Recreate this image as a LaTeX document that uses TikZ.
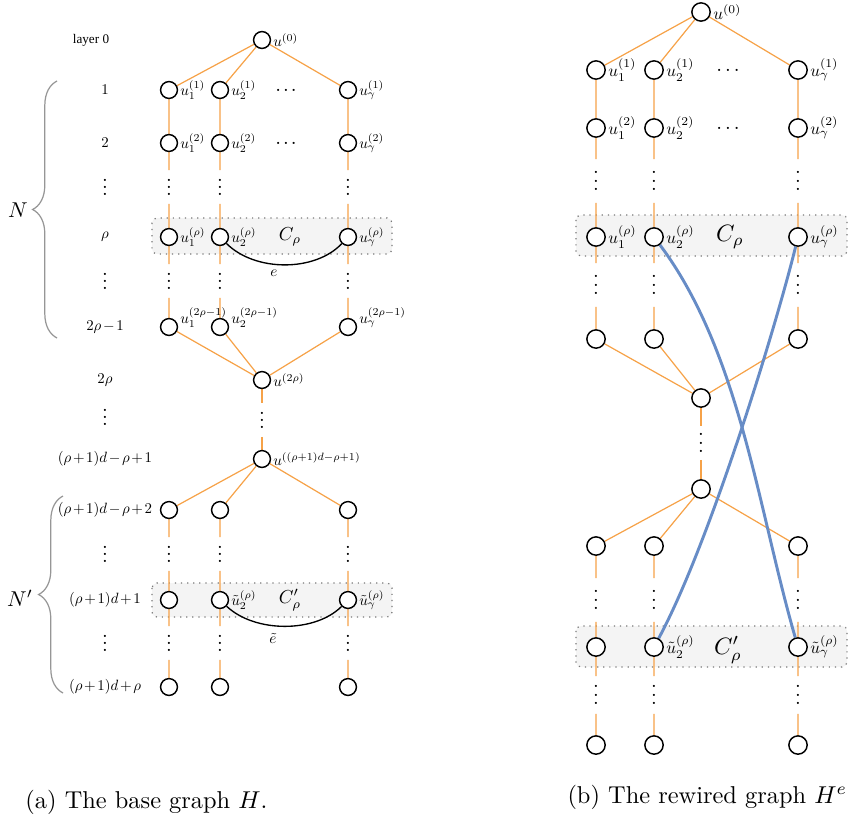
\RequirePackage{fix-cm}
\documentclass[tikz,border=0pt]{standalone}
\usepackage{fontspec}
\newfontfamily\timesf{Liberation Serif}
\usetikzlibrary{decorations.pathreplacing}
\pgfdeclarelayer{boxes}
\pgfdeclarelayer{edges}
\pgfsetlayers{boxes,edges,main}
\definecolor{eorange}{RGB}{246,162,72}
\definecolor{eblue}{RGB}{103,140,198}
\definecolor{cfill}{RGB}{244,244,244}
\definecolor{cline}{RGB}{120,120,120}
\definecolor{bgray}{RGB}{150,150,150}
\newcommand{\hdA}{\hbox{.\kern0.8pt.\kern0.8pt.}}
\newcommand{\vdA}{\vbox{\baselineskip=2.9pt\lineskiplimit=-5pt\hbox{.}\hbox{.}\hbox{.}}}
\newcommand{\hdB}{\hbox{.\kern1.2pt.\kern1.2pt.}}
\newcommand{\vdB}{\vbox{\baselineskip=3.4pt\lineskiplimit=-5pt\hbox{.}\hbox{.}\hbox{.}}}
\tikzset{
 vA/.style={circle,draw,line width=0.6pt,fill=white,minimum size=6.9pt,inner sep=0pt},
 vB/.style={vA,minimum size=7.5pt},
 labA/.style={font=\normalsize,inner sep=1.2pt,scale=0.62},
 labB/.style={font=\normalsize,inner sep=1.2pt,scale=0.7},
 dA/.style={inner sep=0pt,minimum height=13.5pt,minimum width=3pt,font=\fontsize{8}{9}\selectfont},
 dB/.style={dA,minimum height=17.5pt},
 hA/.style={inner sep=0pt,font=\fontsize{8}{9}\selectfont},
 lay/.style={inner sep=0pt,font={\normalsize\medmuskip=2mu},scale=0.61},
 cA/.style={inner sep=0pt,font=\normalsize,scale=0.77},
 cB/.style={inner sep=0pt,font=\normalsize,scale=0.97},
 oe/.style={draw=eorange,line width=0.5pt},
 be/.style={draw=eblue,line width=1.2pt},
 ke/.style={draw=black,line width=0.55pt},
 cbox/.style={draw=cline,fill=cfill,dotted,line width=0.5pt,rounded corners=2pt},
 brc/.style={draw=bgray,line width=0.5pt,decorate,decoration={brace,amplitude=10pt}},
 capt/.style={inner sep=0pt,anchor=west,font=\normalsize},
 bigN/.style={inner sep=0pt,font=\normalsize,scale=0.88},
}
\begin{document}
\begin{tikzpicture}[x=0.41pt,y=-0.41pt]
\useasboundingbox (0,0) rectangle (848,824);
% ---------------- (a) ----------------
\node[vA,label={[labA]east:$u^{(0)}$}] (a0) at (262,40) {};
\node[inner sep=0pt,scale=0.54,font=\timesf] (la0) at (91,40) {layer 0};
% row 1
\node[vA,label={[labA]east:$u_1^{(1)}$}] (a11) at (169,90) {};
\node[vA,label={[labA]east:$u_2^{(1)}$}] (a12) at (220,90) {};
\node[vA,label={[labA]east:$u_\gamma^{(1)}$}] (a1g) at (348,90) {};
\node[hA] (ah1) at (286,90) {\hdA};
\node[lay] (la1) at (105,90) {$1$};
% row 2
\node[vA,label={[labA]east:$u_1^{(2)}$}] (a21) at (169,143) {};
\node[vA,label={[labA]east:$u_2^{(2)}$}] (a22) at (220,143) {};
\node[vA,label={[labA]east:$u_\gamma^{(2)}$}] (a2g) at (348,143) {};
\node[hA] (ah2) at (286,143) {\hdA};
\node[lay] (la2) at (105,143) {$2$};
% dots
\node[dA] (ad1) at (169,187) {\vdA};
\node[dA] (ad2) at (220,187) {\vdA};
\node[dA] (adg) at (348,187) {\vdA};
\node[dA] (lad) at (105,187) {\vdA};
% row rho
\node[vA,label={[labA]east:$u_1^{(\rho)}$}] (ar1) at (169,237) {};
\node[vA,label={[labA]east:$u_2^{(\rho)}$}] (ar2) at (220,237) {};
\node[vA,label={[labA]east:$u_\gamma^{(\rho)}$}] (arg) at (348,237) {};
\node[cA] (ca) at (290,237) {$C_\rho$};
\node[lay] (lar) at (105,237) {$\rho$};
% dots
\node[dA] (ae1) at (169,281) {\vdA};
\node[dA] (ae2) at (220,281) {\vdA};
\node[dA] (aeg) at (348,281) {\vdA};
\node[dA] (lae) at (105,281) {\vdA};
\node[labA] (ea) at (274,273) {$e$};
% row 2rho-1
\node[vA,label={[yshift=4pt,labA]east:$u_1^{(2\rho-1)}$}] (as1) at (169,327) {};
\node[vA,label={[yshift=4pt,labA]east:$u_2^{(2\rho-1)}$}] (as2) at (220,327) {};
\node[vA,label={[yshift=4pt,labA]east:$u_\gamma^{(2\rho-1)}$}] (asg) at (348,327) {};
\node[lay] (las) at (105,327) {$2\rho-1$};
% center
\node[vA,label={[labA]east:$u^{(2\rho)}$}] (a2r) at (262,380) {};
\node[lay] (la2r) at (105,380) {$2\rho$};
\node[dA] (adc) at (262,420) {\vdA};
\node[dA] (ladc) at (105,417) {\vdA};
\node[vA,label={[labA]east:$u^{((\rho+1)d-\rho+1)}$}] (ad) at (262,459) {};
\node[lay] (lad2) at (105,459) {$(\rho+1)d-\rho+1$};
% row
\node[vA] (at1) at (169,510) {};
\node[vA] (at2) at (220,510) {};
\node[vA] (atg) at (348,510) {};
\node[lay] (lat) at (105,510) {$(\rho+1)d-\rho+2$};
\node[dA] (af1) at (169,554) {\vdA};
\node[dA] (af2) at (220,554) {\vdA};
\node[dA] (afg) at (348,554) {\vdA};
\node[dA] (laf) at (105,554) {\vdA};
% row rho'
\node[vA] (ap1) at (169,600) {};
\node[vA,label={[labA]east:$\tilde u_2^{(\rho)}$}] (ap2) at (220,600) {};
\node[vA,label={[labA]east:$\tilde u_\gamma^{(\rho)}$}] (apg) at (348,600) {};
\node[cA] (cpa) at (290,600) {$C'_\rho$};
\node[lay] (lap) at (105,600) {$(\rho+1)d+1$};
\node[dA] (ag1) at (169,643) {\vdA};
\node[dA] (ag2) at (220,643) {\vdA};
\node[dA] (agg) at (348,643) {\vdA};
\node[dA] (lag) at (105,643) {\vdA};
\node[labA] (eta) at (273,638) {$\tilde e$};
% last row
\node[vA] (ab1) at (169,687) {};
\node[vA] (ab2) at (220,687) {};
\node[vA] (abg) at (348,687) {};
\node[lay] (lab) at (105,687) {$(\rho+1)d+\rho$};
% braces
\draw[brc] (57,338) -- (57,81);
\node[bigN] (nN) at (18,210) {$N$};
\draw[brc] (63,693) -- (63,496);
\node[bigN] (nNp) at (20,598) {$N'$};
% caption
\node[capt] (capa) at (25,802) {(a) The base graph $H$.};

% ---------------- (b) ----------------
\node[vB,label={[labB]east:$u^{(0)}$}] (b0) at (701,12) {};
\node[vB,label={[labB]east:$u_1^{(1)}$}] (b11) at (596,70) {};
\node[vB,label={[labB]east:$u_2^{(1)}$}] (b12) at (654,70) {};
\node[vB,label={[labB]east:$u_\gamma^{(1)}$}] (b1g) at (798,70) {};
\node[hA] (bh1) at (728,70) {\hdB};
\node[vB,label={[labB]east:$u_1^{(2)}$}] (b21) at (596,128) {};
\node[vB,label={[labB]east:$u_2^{(2)}$}] (b22) at (654,128) {};
\node[vB,label={[labB]east:$u_\gamma^{(2)}$}] (b2g) at (798,128) {};
\node[hA] (bh2) at (728,128) {\hdB};
\node[dB] (bd1) at (596,181) {\vdB};
\node[dB] (bd2) at (654,181) {\vdB};
\node[dB] (bdg) at (798,181) {\vdB};
\node[vB,label={[labB]east:$u_1^{(\rho)}$}] (br1) at (596,237) {};
\node[vB,label={[labB]east:$u_2^{(\rho)}$}] (br2) at (654,237) {};
\node[vB,label={[labB]east:$u_\gamma^{(\rho)}$}] (brg) at (798,237) {};
\node[cB] (cb) at (730,237) {$C_\rho$};
\node[dB] (be1) at (596,285) {\vdB};
\node[dB] (be2) at (654,285) {\vdB};
\node[dB] (beg) at (798,285) {\vdB};
\node[vB] (bs1) at (596,339) {};
\node[vB] (bs2) at (654,339) {};
\node[vB] (bsg) at (798,339) {};
\node[vB] (bc1) at (701,398) {};
\node[dB,minimum height=13.5pt] (bdc) at (701,443) {\vdB};
\node[vB] (bc2) at (701,489) {};
\node[vB] (bt1) at (596,546) {};
\node[vB] (bt2) at (654,546) {};
\node[vB] (btg) at (798,546) {};
\node[dB] (bf1) at (596,600) {\vdB};
\node[dB] (bf2) at (654,600) {\vdB};
\node[dB] (bfg) at (798,600) {\vdB};
\node[vB] (bp1) at (596,647) {};
\node[vB,label={[labB]east:$\tilde u_2^{(\rho)}$}] (bp2) at (654,647) {};
\node[vB,label={[labB]east:$\tilde u_\gamma^{(\rho)}$}] (bpg) at (798,647) {};
\node[cB] (cpb) at (728,650) {$C'_\rho$};
\node[dB,minimum height=15pt] (bg1) at (596,695) {\vdB};
\node[dB,minimum height=15pt] (bg2) at (654,695) {\vdB};
\node[dB,minimum height=15pt] (bgg) at (798,695) {\vdB};
\node[vB] (bb1) at (596,745) {};
\node[vB] (bb2) at (654,745) {};
\node[vB] (bbg) at (798,745) {};
\node[capt] (capb) at (567,797) {(b) The rewired graph $H^e$};

% ---------------- boxes ----------------
\begin{pgfonlayer}{boxes}
\draw[cbox] (152,218) rectangle (392,254);
\draw[cbox] (152,583) rectangle (392,617);
\draw[cbox] (576,215) rectangle (847,256);
\draw[cbox] (576,626) rectangle (847,667);
\end{pgfonlayer}

% ---------------- edges ----------------
\begin{pgfonlayer}{edges}
% (a)
\draw[oe] (a0) -- (a11); \draw[oe] (a0) -- (a12); \draw[oe] (a0) -- (a1g);
\foreach \c in {1,2,g}{
  \draw[oe] (a1\c) -- (a2\c) -- (ad\c) -- (ar\c) -- (ae\c) -- (as\c) -- (a2r);
  \draw[oe] (ad) -- (at\c) -- (af\c) -- (ap\c) -- (ag\c) -- (ab\c);
}
\draw[oe] (a2r) -- (adc) -- (ad);
\draw[ke] (ar2) .. controls (255,272) and (315,272) .. (arg);
\draw[ke] (ap2) .. controls (255,633) and (315,633) .. (apg);
% (b)
\draw[oe] (b0) -- (b11); \draw[oe] (b0) -- (b12); \draw[oe] (b0) -- (b1g);
\foreach \c in {1,2,g}{
  \draw[oe] (b1\c) -- (b2\c) -- (bd\c) -- (br\c) -- (be\c) -- (bs\c) -- (bc1);
  \draw[oe] (bc2) -- (bt\c) -- (bf\c) -- (bp\c) -- (bg\c) -- (bb\c);
}
\draw[oe] (bc1) -- (bdc) -- (bc2);
\draw[be] (br2) .. controls (740,352) and (758,509) .. (bpg);
\draw[be] (brg) .. controls (775,330) and (709,545) .. (bp2);
\end{pgfonlayer}
\end{tikzpicture}
\end{document}
